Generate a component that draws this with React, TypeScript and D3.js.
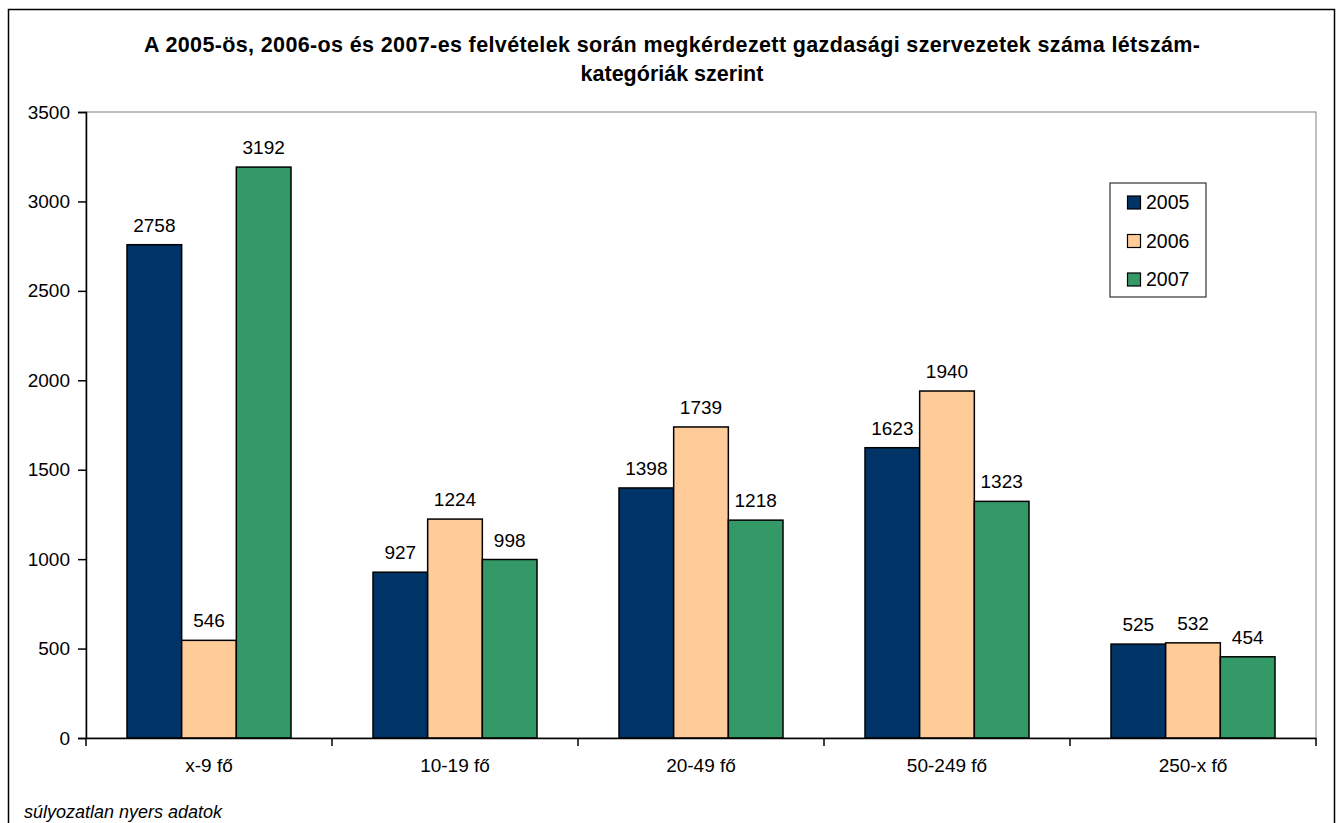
import { useEffect, useRef } from 'react';
import * as d3 from 'd3';

const categories = ['x-9 fő', '10-19 fő', '20-49 fő', '50-249 fő', '250-x fő'];
const years = ['2005', '2006', '2007'];
const values2005 = [2758, 927, 1398, 1623, 525];
const values2006 = [546, 1224, 1739, 1940, 532];
const values2007 = [3192, 998, 1218, 1323, 454];
const yTicks = [0, 500, 1000, 1500, 2000, 2500, 3000, 3500];
const colors = ['#003366', '#FFCC99', '#339966'];

const titleLines = [
  'A 2005-ös, 2006-os és 2007-es felvételek során megkérdezett gazdasági szervezetek száma létszám-',
  'kategóriák szerint',
];
const footnote = 'súlyozatlan nyers adatok';

export default function App() {
  const svgRef = useRef<SVGSVGElement>(null);

  useEffect(() => {
    if (!svgRef.current) return;
    const svg = d3.select(svgRef.current);
    svg.selectAll('*').remove();

    const plot = { left: 86, top: 112, right: 1316, bottom: 738 };
    const font = '"Liberation Sans", Arial, sans-serif';

    // Outer frame (bottom edge falls outside the picture)
    svg
      .append('rect')
      .attr('x', 8.5)
      .attr('y', 9.5)
      .attr('width', 1326)
      .attr('height', 830)
      .attr('fill', '#fff')
      .attr('stroke', '#000')
      .attr('stroke-width', 1.5);

    // Title
    svg
      .append('g')
      .attr('font-family', font)
      .attr('font-weight', 'bold')
      .attr('font-size', 21.5)
      .selectAll('text')
      .data(titleLines)
      .enter()
      .append('text')
      .attr('text-anchor', 'middle')
      .attr('x', 672)
      .attr('y', (d, i) => 52 + i * 29)
      .attr('textLength', (d, i) => (i === 0 ? 1056 : null))
      .attr('lengthAdjust', 'spacing')
      .text((d) => d);

    const x0 = d3.scaleBand<string>().domain(categories).range([plot.left, plot.right]);
    const bw = x0.bandwidth();
    const x1 = d3
      .scaleBand<string>()
      .domain(years)
      .range([bw / 6, (bw * 5) / 6]);

    const y = d3.scaleLinear().domain([0, 3500]).range([plot.bottom, plot.top]);

    // Plot area border
    svg
      .append('rect')
      .attr('x', plot.left)
      .attr('y', plot.top)
      .attr('width', plot.right - plot.left)
      .attr('height', plot.bottom - plot.top)
      .attr('fill', 'none')
      .attr('stroke', '#808080')
      .attr('stroke-width', 1);

    const series = [values2005, values2006, values2007];

    years.forEach((year, si) => {
      const g = svg.append('g');
      g.selectAll('rect')
        .data(series[si])
        .enter()
        .append('rect')
        .attr('x', (d, i) => (x0(categories[i]) || 0) + (x1(year) || 0))
        .attr('y', (d) => y(d))
        .attr('width', x1.bandwidth())
        .attr('height', (d) => y(0) - y(d))
        .attr('fill', colors[si])
        .attr('stroke', '#000')
        .attr('stroke-width', 1.5);

      g.selectAll('text')
        .data(series[si])
        .enter()
        .append('text')
        .attr('x', (d, i) => (x0(categories[i]) || 0) + (x1(year) || 0) + x1.bandwidth() / 2)
        .attr('y', (d) => y(d) - 13)
        .attr('text-anchor', 'middle')
        .attr('font-family', font)
        .attr('font-size', 19)
        .text((d) => d);
    });

    // Y axis
    const yAxis = svg
      .append('g')
      .attr('transform', `translate(${plot.left},0)`)
      .call(
        d3
          .axisLeft(y)
          .tickValues(yTicks)
          .tickSize(8)
          .tickPadding(8)
          .tickFormat(d3.format('d'))
      );
    yAxis.select('.domain').attr('stroke', '#000').attr('stroke-width', 1.5);
    yAxis.selectAll('line').attr('stroke', '#000').attr('stroke-width', 1.5);
    yAxis
      .selectAll('text')
      .attr('font-family', font)
      .attr('font-size', 19)
      .attr('fill', '#000');

    // X axis
    const xAxis = svg
      .append('g')
      .attr('transform', `translate(0,${plot.bottom})`)
      .call(d3.axisBottom(x0).tickSize(0).tickPadding(0));
    xAxis.select('.domain').attr('stroke', '#000').attr('stroke-width', 1.5);
    xAxis
      .selectAll('text')
      .attr('y', 34)
      .attr('dy', null)
      .attr('font-family', font)
      .attr('font-size', 19)
      .attr('fill', '#000');

    // Category separators
    svg
      .append('g')
      .selectAll('line')
      .data(d3.range(categories.length + 1))
      .enter()
      .append('line')
      .attr('x1', (i) => plot.left + i * x0.step())
      .attr('x2', (i) => plot.left + i * x0.step())
      .attr('y1', plot.bottom)
      .attr('y2', plot.bottom + 8)
      .attr('stroke', '#000')
      .attr('stroke-width', 1.5);

    // Legend
    const legend = svg.append('g');
    legend
      .append('rect')
      .attr('x', 1110)
      .attr('y', 183)
      .attr('width', 96)
      .attr('height', 114)
      .attr('fill', '#fff')
      .attr('stroke', '#333')
      .attr('stroke-width', 1.2);
    years.forEach((year, i) => {
      const base = 209 + i * 38.5;
      legend
        .append('rect')
        .attr('x', 1127.5)
        .attr('y', base - 13)
        .attr('width', 13)
        .attr('height', 13)
        .attr('fill', colors[i])
        .attr('stroke', '#000')
        .attr('stroke-width', 1.2);
      legend
        .append('text')
        .attr('x', 1146)
        .attr('y', base)
        .attr('font-family', font)
        .attr('font-size', 19.5)
        .text(year);
    });

    // Footnote
    svg
      .append('text')
      .attr('x', 24)
      .attr('y', 818)
      .attr('font-family', font)
      .attr('font-style', 'italic')
      .attr('font-size', 18)
      .text(footnote);
  }, []);

  return (
    <div style={{ position: 'absolute', left: 0, top: 0 }}>
      <svg ref={svgRef} width={1339} height={823} style={{ display: 'block' }}></svg>
    </div>
  );
}
